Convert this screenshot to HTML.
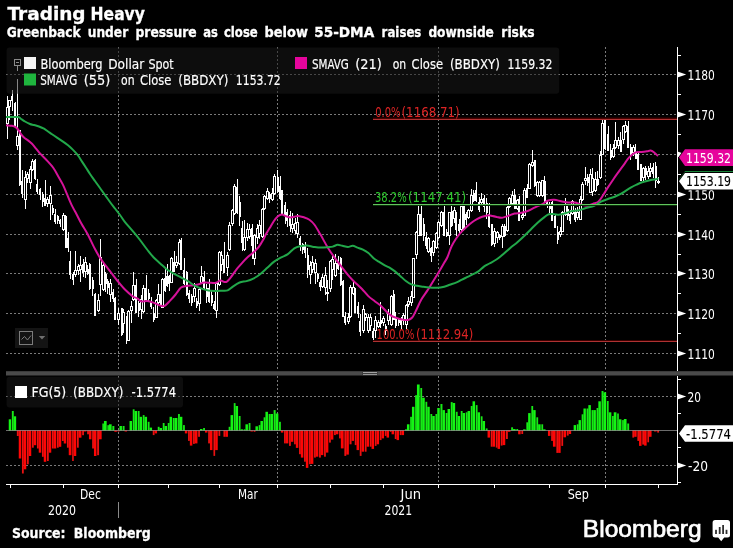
<!DOCTYPE html>
<html lang="en"><head><meta charset="utf-8"><title>Trading Heavy</title>
<style>html,body{margin:0;padding:0;background:#000;}body{width:733px;height:548px;overflow:hidden;}svg text{white-space:pre;}</style>
</head><body>
<svg width="733" height="548" viewBox="0 0 733 548" style="display:block">
<rect width="733" height="548" fill="#000"/>
<g stroke="#7a7a7a" stroke-width="1" stroke-dasharray="2 2" shape-rendering="crispEdges" fill="none">
<path d="M6 74.5H677"/>
<path d="M6 114.5H677"/>
<path d="M6 154.5H677"/>
<path d="M6 194.5H677"/>
<path d="M6 234.5H677"/>
<path d="M6 273.5H677"/>
<path d="M6 313.5H677"/>
<path d="M6 353.5H677"/>
<path d="M6 396.5H677"/>
<path d="M6 465.5H677"/>
<path d="M118.5 47V371"/>
<path d="M118.5 376V484"/>
<path d="M277.5 47V371"/>
<path d="M277.5 376V484"/>
<path d="M438.5 47V371"/>
<path d="M438.5 376V484"/>
<path d="M605.5 47V371"/>
<path d="M605.5 376V484"/>
</g>
<g id="candles" fill="#fff" shape-rendering="crispEdges">
<rect x="7" y="96" width="1" height="43"/>
<rect x="6" y="107" width="3" height="17"/>
<rect x="7" y="108" width="1" height="15" fill="#000"/>
<rect x="9" y="100" width="1" height="20"/>
<rect x="8" y="100" width="3" height="7"/>
<rect x="9" y="101" width="1" height="5" fill="#000"/>
<rect x="12" y="90" width="1" height="21"/>
<rect x="11" y="96" width="2" height="5"/>
<rect x="15" y="102" width="1" height="25"/>
<rect x="14" y="103" width="2" height="23"/>
<rect x="17" y="79" width="1" height="71"/>
<rect x="16" y="136" width="3" height="10"/>
<rect x="17" y="137" width="1" height="8" fill="#000"/>
<rect x="19" y="130" width="1" height="56"/>
<rect x="19" y="130" width="2" height="55"/>
<rect x="22" y="170" width="1" height="28"/>
<rect x="21" y="181" width="2" height="13"/>
<rect x="25" y="171" width="1" height="38"/>
<rect x="24" y="177" width="3" height="23"/>
<rect x="25" y="178" width="1" height="21" fill="#000"/>
<rect x="27" y="172" width="1" height="11"/>
<rect x="26" y="174" width="3" height="5"/>
<rect x="27" y="175" width="1" height="3" fill="#000"/>
<rect x="30" y="166" width="1" height="23"/>
<rect x="29" y="169" width="3" height="14"/>
<rect x="30" y="170" width="1" height="12" fill="#000"/>
<rect x="32" y="159" width="1" height="12"/>
<rect x="31" y="161" width="3" height="9"/>
<rect x="32" y="162" width="1" height="7" fill="#000"/>
<rect x="35" y="159" width="1" height="21"/>
<rect x="34" y="160" width="2" height="19"/>
<rect x="37" y="179" width="1" height="15"/>
<rect x="36" y="184" width="2" height="8"/>
<rect x="40" y="188" width="1" height="12"/>
<rect x="39" y="189" width="2" height="6"/>
<rect x="42" y="192" width="1" height="15"/>
<rect x="42" y="194" width="2" height="8"/>
<rect x="45" y="180" width="1" height="26"/>
<rect x="44" y="198" width="2" height="8"/>
<rect x="47" y="197" width="1" height="10"/>
<rect x="46" y="199" width="3" height="5"/>
<rect x="47" y="200" width="1" height="3" fill="#000"/>
<rect x="50" y="186" width="1" height="34"/>
<rect x="49" y="195" width="3" height="9"/>
<rect x="50" y="196" width="1" height="7" fill="#000"/>
<rect x="52" y="205" width="1" height="10"/>
<rect x="52" y="208" width="2" height="5"/>
<rect x="55" y="209" width="1" height="15"/>
<rect x="54" y="214" width="2" height="8"/>
<rect x="57" y="215" width="1" height="9"/>
<rect x="57" y="216" width="2" height="5"/>
<rect x="60" y="219" width="1" height="8"/>
<rect x="59" y="220" width="2" height="4"/>
<rect x="63" y="213" width="1" height="18"/>
<rect x="62" y="215" width="3" height="15"/>
<rect x="63" y="216" width="1" height="13" fill="#000"/>
<rect x="65" y="215" width="1" height="33"/>
<rect x="65" y="216" width="2" height="32"/>
<rect x="68" y="232" width="1" height="20"/>
<rect x="67" y="238" width="2" height="10"/>
<rect x="70" y="251" width="1" height="28"/>
<rect x="69" y="261" width="2" height="14"/>
<rect x="73" y="272" width="1" height="13"/>
<rect x="72" y="274" width="2" height="6"/>
<rect x="75" y="251" width="1" height="26"/>
<rect x="74" y="270" width="3" height="5"/>
<rect x="75" y="271" width="1" height="3" fill="#000"/>
<rect x="78" y="264" width="1" height="11"/>
<rect x="77" y="266" width="3" height="5"/>
<rect x="78" y="267" width="1" height="3" fill="#000"/>
<rect x="80" y="256" width="1" height="26"/>
<rect x="79" y="265" width="3" height="5"/>
<rect x="80" y="266" width="1" height="3" fill="#000"/>
<rect x="83" y="259" width="1" height="18"/>
<rect x="82" y="264" width="2" height="9"/>
<rect x="85" y="257" width="1" height="21"/>
<rect x="84" y="262" width="3" height="10"/>
<rect x="85" y="263" width="1" height="8" fill="#000"/>
<rect x="87" y="265" width="1" height="10"/>
<rect x="87" y="269" width="2" height="5"/>
<rect x="89" y="263" width="1" height="27"/>
<rect x="89" y="264" width="2" height="25"/>
<rect x="92" y="277" width="1" height="19"/>
<rect x="92" y="280" width="2" height="9"/>
<rect x="95" y="293" width="1" height="23"/>
<rect x="94" y="294" width="2" height="22"/>
<rect x="98" y="294" width="1" height="18"/>
<rect x="97" y="300" width="3" height="11"/>
<rect x="98" y="301" width="1" height="9" fill="#000"/>
<rect x="100" y="239" width="1" height="57"/>
<rect x="99" y="257" width="3" height="28"/>
<rect x="100" y="258" width="1" height="26" fill="#000"/>
<rect x="103" y="263" width="1" height="28"/>
<rect x="102" y="265" width="3" height="25"/>
<rect x="103" y="266" width="1" height="23" fill="#000"/>
<rect x="105" y="272" width="1" height="20"/>
<rect x="105" y="274" width="2" height="10"/>
<rect x="107" y="279" width="1" height="15"/>
<rect x="107" y="281" width="2" height="7"/>
<rect x="110" y="279" width="1" height="23"/>
<rect x="109" y="283" width="3" height="12"/>
<rect x="110" y="284" width="1" height="10" fill="#000"/>
<rect x="113" y="289" width="1" height="13"/>
<rect x="112" y="292" width="2" height="7"/>
<rect x="115" y="297" width="1" height="23"/>
<rect x="114" y="298" width="2" height="22"/>
<rect x="118" y="308" width="1" height="17"/>
<rect x="117" y="313" width="3" height="7"/>
<rect x="118" y="314" width="1" height="5" fill="#000"/>
<rect x="121" y="308" width="1" height="28"/>
<rect x="121" y="308" width="2" height="27"/>
<rect x="123" y="309" width="1" height="24"/>
<rect x="122" y="312" width="3" height="12"/>
<rect x="123" y="313" width="1" height="10" fill="#000"/>
<rect x="126" y="316" width="1" height="28"/>
<rect x="126" y="321" width="2" height="14"/>
<rect x="128" y="310" width="1" height="31"/>
<rect x="127" y="311" width="3" height="30"/>
<rect x="128" y="312" width="1" height="28" fill="#000"/>
<rect x="131" y="301" width="1" height="22"/>
<rect x="130" y="306" width="3" height="5"/>
<rect x="131" y="307" width="1" height="3" fill="#000"/>
<rect x="133" y="272" width="1" height="29"/>
<rect x="132" y="285" width="3" height="15"/>
<rect x="133" y="286" width="1" height="13" fill="#000"/>
<rect x="136" y="279" width="1" height="34"/>
<rect x="135" y="285" width="2" height="28"/>
<rect x="138" y="301" width="1" height="16"/>
<rect x="138" y="303" width="2" height="8"/>
<rect x="141" y="295" width="1" height="24"/>
<rect x="140" y="299" width="3" height="11"/>
<rect x="141" y="300" width="1" height="9" fill="#000"/>
<rect x="143" y="285" width="1" height="28"/>
<rect x="142" y="288" width="3" height="24"/>
<rect x="143" y="289" width="1" height="22" fill="#000"/>
<rect x="146" y="275" width="1" height="26"/>
<rect x="145" y="288" width="2" height="12"/>
<rect x="148" y="289" width="1" height="13"/>
<rect x="148" y="293" width="2" height="6"/>
<rect x="151" y="297" width="1" height="12"/>
<rect x="150" y="301" width="2" height="6"/>
<rect x="153" y="307" width="1" height="15"/>
<rect x="153" y="313" width="2" height="7"/>
<rect x="156" y="299" width="1" height="19"/>
<rect x="155" y="300" width="3" height="18"/>
<rect x="156" y="301" width="1" height="16" fill="#000"/>
<rect x="158" y="284" width="1" height="20"/>
<rect x="157" y="294" width="3" height="9"/>
<rect x="158" y="295" width="1" height="7" fill="#000"/>
<rect x="160" y="294" width="1" height="12"/>
<rect x="160" y="296" width="2" height="7"/>
<rect x="162" y="278" width="1" height="30"/>
<rect x="161" y="279" width="3" height="29"/>
<rect x="162" y="280" width="1" height="27" fill="#000"/>
<rect x="165" y="269" width="1" height="23"/>
<rect x="164" y="278" width="2" height="13"/>
<rect x="167" y="264" width="1" height="23"/>
<rect x="166" y="276" width="2" height="10"/>
<rect x="169" y="275" width="1" height="16"/>
<rect x="168" y="276" width="2" height="8"/>
<rect x="171" y="257" width="1" height="26"/>
<rect x="170" y="258" width="3" height="25"/>
<rect x="171" y="259" width="1" height="23" fill="#000"/>
<rect x="174" y="251" width="1" height="21"/>
<rect x="173" y="262" width="2" height="10"/>
<rect x="176" y="256" width="1" height="12"/>
<rect x="175" y="262" width="3" height="4"/>
<rect x="176" y="263" width="1" height="2" fill="#000"/>
<rect x="179" y="239" width="1" height="26"/>
<rect x="178" y="242" width="3" height="22"/>
<rect x="179" y="243" width="1" height="20" fill="#000"/>
<rect x="181" y="238" width="1" height="32"/>
<rect x="180" y="240" width="2" height="30"/>
<rect x="184" y="258" width="1" height="27"/>
<rect x="183" y="270" width="2" height="14"/>
<rect x="186" y="271" width="1" height="25"/>
<rect x="186" y="272" width="2" height="23"/>
<rect x="189" y="290" width="1" height="13"/>
<rect x="188" y="293" width="2" height="6"/>
<rect x="191" y="294" width="1" height="12"/>
<rect x="191" y="296" width="2" height="7"/>
<rect x="194" y="283" width="1" height="19"/>
<rect x="193" y="288" width="3" height="9"/>
<rect x="194" y="289" width="1" height="7" fill="#000"/>
<rect x="196" y="298" width="1" height="10"/>
<rect x="196" y="301" width="2" height="5"/>
<rect x="199" y="288" width="1" height="23"/>
<rect x="198" y="289" width="3" height="15"/>
<rect x="199" y="290" width="1" height="13" fill="#000"/>
<rect x="201" y="266" width="1" height="18"/>
<rect x="200" y="276" width="3" height="7"/>
<rect x="201" y="277" width="1" height="5" fill="#000"/>
<rect x="204" y="271" width="1" height="18"/>
<rect x="203" y="277" width="2" height="11"/>
<rect x="206" y="284" width="1" height="19"/>
<rect x="206" y="288" width="2" height="9"/>
<rect x="209" y="279" width="1" height="24"/>
<rect x="208" y="288" width="2" height="14"/>
<rect x="211" y="291" width="1" height="15"/>
<rect x="211" y="295" width="2" height="8"/>
<rect x="214" y="301" width="1" height="9"/>
<rect x="213" y="304" width="2" height="5"/>
<rect x="216" y="282" width="1" height="36"/>
<rect x="215" y="283" width="3" height="28"/>
<rect x="216" y="284" width="1" height="26" fill="#000"/>
<rect x="219" y="251" width="1" height="35"/>
<rect x="218" y="252" width="3" height="33"/>
<rect x="219" y="253" width="1" height="31" fill="#000"/>
<rect x="221" y="251" width="1" height="20"/>
<rect x="220" y="255" width="3" height="10"/>
<rect x="221" y="256" width="1" height="8" fill="#000"/>
<rect x="224" y="242" width="1" height="31"/>
<rect x="223" y="259" width="2" height="14"/>
<rect x="227" y="252" width="1" height="24"/>
<rect x="226" y="255" width="3" height="13"/>
<rect x="227" y="256" width="1" height="11" fill="#000"/>
<rect x="229" y="222" width="1" height="29"/>
<rect x="228" y="225" width="3" height="25"/>
<rect x="229" y="226" width="1" height="23" fill="#000"/>
<rect x="232" y="209" width="1" height="17"/>
<rect x="231" y="210" width="3" height="14"/>
<rect x="232" y="211" width="1" height="12" fill="#000"/>
<rect x="234" y="184" width="1" height="31"/>
<rect x="233" y="186" width="3" height="28"/>
<rect x="234" y="187" width="1" height="26" fill="#000"/>
<rect x="237" y="179" width="1" height="35"/>
<rect x="236" y="187" width="2" height="26"/>
<rect x="239" y="196" width="1" height="30"/>
<rect x="239" y="202" width="2" height="15"/>
<rect x="242" y="221" width="1" height="30"/>
<rect x="241" y="228" width="2" height="15"/>
<rect x="244" y="220" width="1" height="31"/>
<rect x="243" y="237" width="3" height="13"/>
<rect x="244" y="238" width="1" height="11" fill="#000"/>
<rect x="247" y="223" width="1" height="18"/>
<rect x="246" y="229" width="3" height="9"/>
<rect x="247" y="230" width="1" height="7" fill="#000"/>
<rect x="249" y="224" width="1" height="15"/>
<rect x="248" y="229" width="3" height="8"/>
<rect x="249" y="230" width="1" height="6" fill="#000"/>
<rect x="252" y="224" width="1" height="35"/>
<rect x="251" y="228" width="2" height="18"/>
<rect x="254" y="234" width="1" height="31"/>
<rect x="253" y="235" width="3" height="24"/>
<rect x="254" y="236" width="1" height="22" fill="#000"/>
<rect x="257" y="224" width="1" height="20"/>
<rect x="256" y="228" width="3" height="10"/>
<rect x="257" y="229" width="1" height="8" fill="#000"/>
<rect x="259" y="220" width="1" height="19"/>
<rect x="258" y="225" width="3" height="9"/>
<rect x="259" y="226" width="1" height="7" fill="#000"/>
<rect x="262" y="208" width="1" height="30"/>
<rect x="261" y="209" width="3" height="28"/>
<rect x="262" y="210" width="1" height="26" fill="#000"/>
<rect x="264" y="195" width="1" height="15"/>
<rect x="263" y="196" width="3" height="13"/>
<rect x="264" y="197" width="1" height="11" fill="#000"/>
<rect x="267" y="188" width="1" height="12"/>
<rect x="266" y="191" width="3" height="8"/>
<rect x="267" y="192" width="1" height="6" fill="#000"/>
<rect x="269" y="192" width="1" height="11"/>
<rect x="269" y="194" width="2" height="5"/>
<rect x="272" y="188" width="1" height="13"/>
<rect x="271" y="193" width="3" height="7"/>
<rect x="272" y="194" width="1" height="5" fill="#000"/>
<rect x="274" y="174" width="1" height="21"/>
<rect x="273" y="176" width="3" height="18"/>
<rect x="274" y="177" width="1" height="16" fill="#000"/>
<rect x="277" y="170" width="1" height="23"/>
<rect x="277" y="177" width="2" height="15"/>
<rect x="280" y="176" width="1" height="24"/>
<rect x="279" y="186" width="2" height="13"/>
<rect x="282" y="190" width="1" height="24"/>
<rect x="281" y="190" width="2" height="24"/>
<rect x="285" y="202" width="1" height="22"/>
<rect x="284" y="205" width="2" height="11"/>
<rect x="287" y="209" width="1" height="18"/>
<rect x="286" y="212" width="2" height="9"/>
<rect x="290" y="211" width="1" height="21"/>
<rect x="289" y="215" width="2" height="11"/>
<rect x="292" y="213" width="1" height="20"/>
<rect x="291" y="224" width="3" height="5"/>
<rect x="292" y="225" width="1" height="3" fill="#000"/>
<rect x="295" y="218" width="1" height="16"/>
<rect x="294" y="223" width="3" height="8"/>
<rect x="295" y="224" width="1" height="6" fill="#000"/>
<rect x="297" y="214" width="1" height="24"/>
<rect x="296" y="222" width="3" height="12"/>
<rect x="297" y="223" width="1" height="10" fill="#000"/>
<rect x="300" y="236" width="1" height="15"/>
<rect x="299" y="238" width="2" height="7"/>
<rect x="302" y="243" width="1" height="11"/>
<rect x="302" y="244" width="2" height="6"/>
<rect x="305" y="242" width="1" height="16"/>
<rect x="304" y="245" width="2" height="8"/>
<rect x="307" y="248" width="1" height="30"/>
<rect x="307" y="255" width="2" height="15"/>
<rect x="310" y="261" width="1" height="23"/>
<rect x="309" y="265" width="3" height="10"/>
<rect x="310" y="266" width="1" height="8" fill="#000"/>
<rect x="312" y="256" width="1" height="17"/>
<rect x="311" y="262" width="3" height="8"/>
<rect x="312" y="263" width="1" height="6" fill="#000"/>
<rect x="315" y="259" width="1" height="25"/>
<rect x="314" y="263" width="3" height="10"/>
<rect x="315" y="264" width="1" height="8" fill="#000"/>
<rect x="317" y="273" width="1" height="9"/>
<rect x="317" y="274" width="2" height="5"/>
<rect x="320" y="280" width="1" height="11"/>
<rect x="319" y="282" width="2" height="5"/>
<rect x="322" y="274" width="1" height="14"/>
<rect x="321" y="277" width="3" height="10"/>
<rect x="322" y="278" width="1" height="8" fill="#000"/>
<rect x="325" y="267" width="1" height="28"/>
<rect x="324" y="275" width="3" height="13"/>
<rect x="325" y="276" width="1" height="11" fill="#000"/>
<rect x="327" y="280" width="1" height="21"/>
<rect x="326" y="292" width="3" height="2"/>
<rect x="330" y="260" width="1" height="32"/>
<rect x="329" y="261" width="3" height="28"/>
<rect x="330" y="262" width="1" height="26" fill="#000"/>
<rect x="332" y="256" width="1" height="24"/>
<rect x="331" y="259" width="3" height="11"/>
<rect x="332" y="260" width="1" height="9" fill="#000"/>
<rect x="335" y="254" width="1" height="23"/>
<rect x="334" y="263" width="3" height="13"/>
<rect x="335" y="264" width="1" height="11" fill="#000"/>
<rect x="338" y="256" width="1" height="14"/>
<rect x="337" y="263" width="2" height="6"/>
<rect x="340" y="257" width="1" height="29"/>
<rect x="340" y="258" width="2" height="27"/>
<rect x="343" y="280" width="1" height="37"/>
<rect x="342" y="281" width="2" height="36"/>
<rect x="345" y="312" width="1" height="13"/>
<rect x="344" y="316" width="2" height="7"/>
<rect x="348" y="313" width="1" height="11"/>
<rect x="347" y="317" width="3" height="5"/>
<rect x="348" y="318" width="1" height="3" fill="#000"/>
<rect x="350" y="285" width="1" height="33"/>
<rect x="349" y="287" width="3" height="30"/>
<rect x="350" y="288" width="1" height="28" fill="#000"/>
<rect x="353" y="280" width="1" height="15"/>
<rect x="352" y="287" width="3" height="7"/>
<rect x="353" y="288" width="1" height="5" fill="#000"/>
<rect x="355" y="288" width="1" height="25"/>
<rect x="354" y="288" width="2" height="25"/>
<rect x="358" y="302" width="1" height="16"/>
<rect x="357" y="306" width="2" height="8"/>
<rect x="360" y="314" width="1" height="22"/>
<rect x="359" y="321" width="2" height="11"/>
<rect x="363" y="305" width="1" height="28"/>
<rect x="362" y="309" width="3" height="22"/>
<rect x="363" y="310" width="1" height="20" fill="#000"/>
<rect x="365" y="313" width="1" height="8"/>
<rect x="364" y="314" width="3" height="4"/>
<rect x="365" y="315" width="1" height="2" fill="#000"/>
<rect x="368" y="314" width="1" height="19"/>
<rect x="367" y="317" width="3" height="14"/>
<rect x="368" y="318" width="1" height="12" fill="#000"/>
<rect x="370" y="314" width="1" height="17"/>
<rect x="369" y="317" width="3" height="9"/>
<rect x="370" y="318" width="1" height="7" fill="#000"/>
<rect x="373" y="328" width="1" height="13"/>
<rect x="372" y="331" width="2" height="7"/>
<rect x="375" y="316" width="1" height="22"/>
<rect x="374" y="320" width="3" height="11"/>
<rect x="375" y="321" width="1" height="9" fill="#000"/>
<rect x="378" y="320" width="1" height="8"/>
<rect x="377" y="322" width="3" height="5"/>
<rect x="378" y="323" width="1" height="3" fill="#000"/>
<rect x="380" y="302" width="1" height="26"/>
<rect x="380" y="320" width="2" height="4"/>
<rect x="383" y="316" width="1" height="10"/>
<rect x="382" y="318" width="3" height="5"/>
<rect x="383" y="319" width="1" height="3" fill="#000"/>
<rect x="385" y="324" width="1" height="11"/>
<rect x="385" y="326" width="2" height="5"/>
<rect x="388" y="309" width="1" height="16"/>
<rect x="387" y="313" width="3" height="8"/>
<rect x="388" y="314" width="1" height="6" fill="#000"/>
<rect x="391" y="295" width="1" height="31"/>
<rect x="390" y="296" width="3" height="29"/>
<rect x="391" y="297" width="1" height="27" fill="#000"/>
<rect x="393" y="290" width="1" height="30"/>
<rect x="393" y="294" width="2" height="26"/>
<rect x="395" y="312" width="1" height="16"/>
<rect x="395" y="317" width="2" height="9"/>
<rect x="398" y="318" width="1" height="8"/>
<rect x="398" y="319" width="2" height="4"/>
<rect x="401" y="317" width="1" height="12"/>
<rect x="400" y="319" width="2" height="6"/>
<rect x="403" y="313" width="1" height="12"/>
<rect x="402" y="315" width="3" height="6"/>
<rect x="403" y="316" width="1" height="4" fill="#000"/>
<rect x="406" y="304" width="1" height="25"/>
<rect x="405" y="305" width="3" height="20"/>
<rect x="406" y="306" width="1" height="18" fill="#000"/>
<rect x="408" y="297" width="1" height="10"/>
<rect x="407" y="301" width="3" height="4"/>
<rect x="408" y="302" width="1" height="2" fill="#000"/>
<rect x="411" y="291" width="1" height="15"/>
<rect x="410" y="296" width="3" height="7"/>
<rect x="411" y="297" width="1" height="5" fill="#000"/>
<rect x="413" y="258" width="1" height="40"/>
<rect x="412" y="258" width="3" height="40"/>
<rect x="413" y="259" width="1" height="38" fill="#000"/>
<rect x="416" y="231" width="1" height="28"/>
<rect x="415" y="232" width="3" height="23"/>
<rect x="416" y="233" width="1" height="21" fill="#000"/>
<rect x="418" y="206" width="1" height="30"/>
<rect x="417" y="214" width="3" height="22"/>
<rect x="418" y="215" width="1" height="20" fill="#000"/>
<rect x="421" y="206" width="1" height="30"/>
<rect x="420" y="214" width="2" height="22"/>
<rect x="423" y="218" width="1" height="23"/>
<rect x="423" y="224" width="2" height="12"/>
<rect x="426" y="232" width="1" height="17"/>
<rect x="425" y="237" width="2" height="9"/>
<rect x="428" y="237" width="1" height="16"/>
<rect x="427" y="238" width="3" height="14"/>
<rect x="428" y="239" width="1" height="12" fill="#000"/>
<rect x="431" y="247" width="1" height="15"/>
<rect x="430" y="248" width="2" height="8"/>
<rect x="433" y="240" width="1" height="16"/>
<rect x="432" y="241" width="3" height="12"/>
<rect x="433" y="242" width="1" height="10" fill="#000"/>
<rect x="436" y="232" width="1" height="17"/>
<rect x="435" y="233" width="3" height="15"/>
<rect x="436" y="234" width="1" height="13" fill="#000"/>
<rect x="438" y="221" width="1" height="18"/>
<rect x="437" y="222" width="3" height="16"/>
<rect x="438" y="223" width="1" height="14" fill="#000"/>
<rect x="441" y="211" width="1" height="16"/>
<rect x="440" y="212" width="3" height="14"/>
<rect x="441" y="213" width="1" height="12" fill="#000"/>
<rect x="444" y="205" width="1" height="31"/>
<rect x="443" y="212" width="2" height="24"/>
<rect x="446" y="229" width="1" height="8"/>
<rect x="446" y="232" width="2" height="4"/>
<rect x="449" y="212" width="1" height="33"/>
<rect x="448" y="212" width="3" height="24"/>
<rect x="449" y="213" width="1" height="22" fill="#000"/>
<rect x="451" y="204" width="1" height="23"/>
<rect x="451" y="211" width="2" height="15"/>
<rect x="454" y="207" width="1" height="16"/>
<rect x="453" y="210" width="3" height="9"/>
<rect x="454" y="211" width="1" height="7" fill="#000"/>
<rect x="456" y="212" width="1" height="24"/>
<rect x="455" y="218" width="2" height="12"/>
<rect x="459" y="219" width="1" height="15"/>
<rect x="458" y="224" width="2" height="7"/>
<rect x="461" y="205" width="1" height="26"/>
<rect x="460" y="206" width="3" height="24"/>
<rect x="461" y="207" width="1" height="22" fill="#000"/>
<rect x="463" y="205" width="1" height="26"/>
<rect x="463" y="206" width="2" height="24"/>
<rect x="466" y="212" width="1" height="13"/>
<rect x="465" y="214" width="2" height="6"/>
<rect x="468" y="209" width="1" height="10"/>
<rect x="467" y="210" width="3" height="8"/>
<rect x="468" y="211" width="1" height="6" fill="#000"/>
<rect x="471" y="189" width="1" height="23"/>
<rect x="470" y="195" width="3" height="16"/>
<rect x="471" y="196" width="1" height="14" fill="#000"/>
<rect x="473" y="190" width="1" height="12"/>
<rect x="473" y="193" width="2" height="8"/>
<rect x="476" y="182" width="1" height="20"/>
<rect x="475" y="190" width="2" height="11"/>
<rect x="479" y="197" width="1" height="15"/>
<rect x="478" y="202" width="2" height="8"/>
<rect x="481" y="193" width="1" height="13"/>
<rect x="480" y="199" width="3" height="4"/>
<rect x="481" y="200" width="1" height="2" fill="#000"/>
<rect x="484" y="195" width="1" height="17"/>
<rect x="483" y="198" width="2" height="9"/>
<rect x="486" y="198" width="1" height="21"/>
<rect x="486" y="203" width="2" height="10"/>
<rect x="489" y="203" width="1" height="25"/>
<rect x="488" y="214" width="2" height="13"/>
<rect x="491" y="224" width="1" height="22"/>
<rect x="491" y="224" width="2" height="21"/>
<rect x="494" y="228" width="1" height="19"/>
<rect x="493" y="231" width="3" height="13"/>
<rect x="494" y="232" width="1" height="11" fill="#000"/>
<rect x="497" y="231" width="1" height="12"/>
<rect x="496" y="232" width="3" height="6"/>
<rect x="497" y="233" width="1" height="4" fill="#000"/>
<rect x="499" y="234" width="1" height="6"/>
<rect x="499" y="235" width="2" height="3"/>
<rect x="502" y="224" width="1" height="24"/>
<rect x="501" y="226" width="3" height="11"/>
<rect x="502" y="227" width="1" height="9" fill="#000"/>
<rect x="504" y="224" width="1" height="13"/>
<rect x="504" y="226" width="2" height="10"/>
<rect x="507" y="206" width="1" height="26"/>
<rect x="506" y="207" width="3" height="24"/>
<rect x="507" y="208" width="1" height="22" fill="#000"/>
<rect x="509" y="197" width="1" height="11"/>
<rect x="508" y="198" width="3" height="9"/>
<rect x="509" y="199" width="1" height="7" fill="#000"/>
<rect x="512" y="191" width="1" height="14"/>
<rect x="511" y="195" width="3" height="9"/>
<rect x="512" y="196" width="1" height="7" fill="#000"/>
<rect x="514" y="189" width="1" height="20"/>
<rect x="514" y="195" width="2" height="14"/>
<rect x="517" y="199" width="1" height="11"/>
<rect x="516" y="200" width="3" height="9"/>
<rect x="517" y="201" width="1" height="7" fill="#000"/>
<rect x="519" y="196" width="1" height="25"/>
<rect x="518" y="199" width="2" height="22"/>
<rect x="522" y="212" width="1" height="8"/>
<rect x="521" y="215" width="3" height="3"/>
<rect x="522" y="216" width="1" height="1" fill="#000"/>
<rect x="524" y="188" width="1" height="28"/>
<rect x="523" y="190" width="3" height="26"/>
<rect x="524" y="191" width="1" height="24" fill="#000"/>
<rect x="527" y="184" width="1" height="14"/>
<rect x="526" y="188" width="2" height="10"/>
<rect x="529" y="163" width="1" height="26"/>
<rect x="528" y="164" width="3" height="25"/>
<rect x="529" y="165" width="1" height="23" fill="#000"/>
<rect x="532" y="150" width="1" height="17"/>
<rect x="531" y="162" width="3" height="4"/>
<rect x="532" y="163" width="1" height="2" fill="#000"/>
<rect x="534" y="160" width="1" height="27"/>
<rect x="534" y="160" width="2" height="26"/>
<rect x="537" y="181" width="1" height="16"/>
<rect x="536" y="182" width="3" height="14"/>
<rect x="537" y="183" width="1" height="12" fill="#000"/>
<rect x="539" y="181" width="1" height="16"/>
<rect x="538" y="182" width="3" height="14"/>
<rect x="539" y="183" width="1" height="12" fill="#000"/>
<rect x="542" y="180" width="1" height="17"/>
<rect x="541" y="180" width="3" height="16"/>
<rect x="542" y="181" width="1" height="14" fill="#000"/>
<rect x="544" y="176" width="1" height="26"/>
<rect x="544" y="181" width="2" height="21"/>
<rect x="547" y="200" width="1" height="8"/>
<rect x="546" y="201" width="2" height="4"/>
<rect x="549" y="202" width="1" height="11"/>
<rect x="549" y="204" width="2" height="5"/>
<rect x="552" y="201" width="1" height="20"/>
<rect x="551" y="202" width="2" height="19"/>
<rect x="555" y="215" width="1" height="13"/>
<rect x="554" y="216" width="2" height="12"/>
<rect x="557" y="226" width="1" height="18"/>
<rect x="557" y="232" width="2" height="8"/>
<rect x="560" y="227" width="1" height="10"/>
<rect x="559" y="231" width="3" height="4"/>
<rect x="560" y="232" width="1" height="2" fill="#000"/>
<rect x="562" y="211" width="1" height="21"/>
<rect x="561" y="212" width="3" height="20"/>
<rect x="562" y="213" width="1" height="18" fill="#000"/>
<rect x="565" y="198" width="1" height="18"/>
<rect x="564" y="205" width="3" height="10"/>
<rect x="565" y="206" width="1" height="8" fill="#000"/>
<rect x="567" y="206" width="1" height="14"/>
<rect x="567" y="209" width="2" height="7"/>
<rect x="570" y="210" width="1" height="14"/>
<rect x="569" y="214" width="2" height="7"/>
<rect x="572" y="200" width="1" height="15"/>
<rect x="571" y="201" width="3" height="13"/>
<rect x="572" y="202" width="1" height="11" fill="#000"/>
<rect x="575" y="208" width="1" height="14"/>
<rect x="574" y="212" width="2" height="8"/>
<rect x="577" y="207" width="1" height="13"/>
<rect x="576" y="212" width="3" height="6"/>
<rect x="577" y="213" width="1" height="4" fill="#000"/>
<rect x="580" y="196" width="1" height="24"/>
<rect x="579" y="199" width="3" height="21"/>
<rect x="580" y="200" width="1" height="19" fill="#000"/>
<rect x="582" y="182" width="1" height="19"/>
<rect x="581" y="184" width="3" height="16"/>
<rect x="582" y="185" width="1" height="14" fill="#000"/>
<rect x="585" y="167" width="1" height="18"/>
<rect x="584" y="178" width="3" height="3"/>
<rect x="585" y="179" width="1" height="1" fill="#000"/>
<rect x="587" y="174" width="1" height="12"/>
<rect x="587" y="177" width="2" height="6"/>
<rect x="590" y="169" width="1" height="24"/>
<rect x="589" y="174" width="3" height="19"/>
<rect x="590" y="175" width="1" height="17" fill="#000"/>
<rect x="592" y="168" width="1" height="28"/>
<rect x="591" y="178" width="3" height="14"/>
<rect x="592" y="179" width="1" height="12" fill="#000"/>
<rect x="595" y="172" width="1" height="20"/>
<rect x="594" y="179" width="3" height="12"/>
<rect x="595" y="180" width="1" height="10" fill="#000"/>
<rect x="597" y="171" width="1" height="15"/>
<rect x="597" y="179" width="2" height="6"/>
<rect x="600" y="151" width="1" height="28"/>
<rect x="599" y="155" width="3" height="23"/>
<rect x="600" y="156" width="1" height="21" fill="#000"/>
<rect x="602" y="120" width="1" height="35"/>
<rect x="601" y="123" width="3" height="32"/>
<rect x="602" y="124" width="1" height="30" fill="#000"/>
<rect x="605" y="120" width="1" height="30"/>
<rect x="604" y="120" width="2" height="29"/>
<rect x="608" y="126" width="1" height="25"/>
<rect x="607" y="134" width="2" height="17"/>
<rect x="610" y="144" width="1" height="16"/>
<rect x="610" y="150" width="2" height="8"/>
<rect x="613" y="144" width="1" height="14"/>
<rect x="612" y="148" width="3" height="9"/>
<rect x="613" y="149" width="1" height="7" fill="#000"/>
<rect x="615" y="122" width="1" height="27"/>
<rect x="614" y="140" width="3" height="8"/>
<rect x="615" y="141" width="1" height="6" fill="#000"/>
<rect x="618" y="137" width="1" height="12"/>
<rect x="617" y="140" width="3" height="6"/>
<rect x="618" y="141" width="1" height="4" fill="#000"/>
<rect x="620" y="132" width="1" height="20"/>
<rect x="620" y="140" width="2" height="12"/>
<rect x="623" y="125" width="1" height="19"/>
<rect x="622" y="126" width="3" height="14"/>
<rect x="623" y="127" width="1" height="12" fill="#000"/>
<rect x="625" y="121" width="1" height="12"/>
<rect x="624" y="125" width="3" height="7"/>
<rect x="625" y="126" width="1" height="5" fill="#000"/>
<rect x="628" y="121" width="1" height="27"/>
<rect x="627" y="126" width="2" height="22"/>
<rect x="630" y="144" width="1" height="16"/>
<rect x="630" y="147" width="2" height="8"/>
<rect x="633" y="145" width="1" height="11"/>
<rect x="632" y="147" width="3" height="6"/>
<rect x="633" y="148" width="1" height="4" fill="#000"/>
<rect x="635" y="144" width="1" height="15"/>
<rect x="635" y="153" width="2" height="6"/>
<rect x="638" y="153" width="1" height="17"/>
<rect x="637" y="154" width="2" height="16"/>
<rect x="640" y="164" width="1" height="17"/>
<rect x="640" y="164" width="2" height="17"/>
<rect x="643" y="167" width="1" height="14"/>
<rect x="642" y="168" width="3" height="10"/>
<rect x="643" y="169" width="1" height="8" fill="#000"/>
<rect x="645" y="166" width="1" height="14"/>
<rect x="645" y="168" width="2" height="7"/>
<rect x="648" y="166" width="1" height="13"/>
<rect x="647" y="171" width="3" height="6"/>
<rect x="648" y="172" width="1" height="4" fill="#000"/>
<rect x="650" y="163" width="1" height="14"/>
<rect x="649" y="168" width="3" height="4"/>
<rect x="650" y="169" width="1" height="2" fill="#000"/>
<rect x="653" y="163" width="1" height="15"/>
<rect x="652" y="167" width="2" height="7"/>
<rect x="655" y="162" width="1" height="26"/>
<rect x="655" y="166" width="2" height="15"/>
<rect x="658" y="177" width="1" height="7"/>
<rect x="657" y="181" width="3" height="2"/>
</g>
<path d="M6.0 125.3C7.0 125.4 10.4 125.4 12.0 125.7C13.6 126.0 14.9 126.6 16.0 127.4C17.1 128.2 18.2 129.7 19.0 130.8C19.8 131.9 20.2 133.1 21.0 134.2C21.8 135.3 22.9 136.6 24.0 137.6C25.1 138.6 26.7 139.4 28.0 140.4C29.3 141.4 30.7 142.5 32.0 143.8C33.3 145.1 34.7 147.1 36.0 148.6C37.3 150.1 38.7 152.0 40.0 153.4C41.3 154.8 42.7 156.2 44.0 157.5C45.3 158.8 46.7 160.2 48.0 161.6C49.3 163.0 50.9 164.8 52.0 166.2C53.1 167.6 54.1 169.1 55.0 170.5C55.9 171.9 56.2 172.7 57.5 175.0C58.8 177.3 61.4 181.5 62.9 184.6C64.4 187.7 65.7 191.1 67.0 194.2C68.3 197.3 69.6 200.6 71.1 203.8C72.6 207.0 74.7 210.8 76.4 214.0C78.1 217.2 79.7 220.5 81.5 223.8C83.3 227.1 85.7 230.5 87.8 234.5C89.9 238.5 92.7 244.7 94.7 248.5C96.7 252.3 98.4 255.4 100.2 258.1C102.0 260.8 104.0 263.3 105.7 265.6C107.4 267.9 109.2 270.0 111.1 272.5C113.0 275.0 115.3 278.2 117.6 281.0C119.9 283.8 122.8 287.4 125.2 289.8C127.6 292.2 130.6 294.8 132.5 296.2C134.4 297.6 135.9 297.5 137.3 298.3C138.7 299.1 139.4 300.9 141.0 301.3C142.6 301.7 145.2 300.8 147.2 301.0C149.2 301.2 151.3 301.9 153.4 302.6C155.5 303.3 158.5 305.1 160.3 305.6C162.1 306.1 163.0 306.6 164.6 305.8C166.2 305.0 168.3 302.4 170.1 300.6C171.9 298.8 173.9 296.6 175.6 294.5C177.3 292.4 179.3 289.0 181.0 287.6C182.7 286.2 184.5 286.4 186.5 286.0C188.5 285.6 191.4 285.6 193.4 285.3C195.4 285.0 197.1 284.6 198.8 284.2C200.5 283.8 202.3 282.8 204.3 282.6C206.3 282.4 209.2 282.8 211.1 282.8C213.0 282.8 214.5 283.2 216.0 282.8C217.5 282.4 219.0 280.7 220.6 280.6C222.2 280.5 224.3 282.7 226.1 282.0C227.9 281.3 230.1 278.1 231.8 276.0C233.5 273.9 235.2 270.9 236.9 268.8C238.6 266.7 240.7 264.5 242.4 262.6C244.1 260.7 246.1 258.7 247.8 257.1C249.5 255.5 251.5 254.0 253.3 252.4C255.1 250.8 257.2 249.0 258.8 246.9C260.4 244.8 262.3 241.4 263.5 239.3C264.7 237.2 265.0 235.8 266.0 234.0C267.0 232.2 268.5 230.1 269.7 228.1C270.9 226.1 272.3 223.4 273.6 221.5C274.9 219.6 276.6 217.4 277.9 216.3C279.2 215.2 280.7 214.5 282.0 214.5C283.3 214.5 284.8 215.8 286.1 216.3C287.4 216.8 288.9 217.3 290.2 217.4C291.5 217.5 293.0 216.9 294.3 216.7C295.6 216.5 296.9 215.8 298.4 215.9C299.9 216.0 302.1 216.7 303.9 217.3C305.7 217.9 307.7 218.5 309.4 219.7C311.1 220.9 312.5 222.1 314.3 224.5C316.1 226.9 318.4 231.0 320.5 234.6C322.6 238.2 325.2 243.3 327.4 246.9C329.6 250.5 332.0 254.0 334.2 257.1C336.4 260.2 338.8 263.2 341.0 266.0C343.2 268.8 345.9 272.5 347.9 274.9C349.9 277.3 352.0 279.5 353.5 281.0C355.0 282.5 355.6 282.9 357.0 284.2C358.4 285.5 360.2 287.1 362.0 289.0C363.8 290.9 366.1 293.9 368.1 295.9C370.1 297.9 372.8 299.7 374.7 301.2C376.6 302.7 378.4 303.8 380.2 305.3C382.0 306.8 384.0 309.2 385.7 310.8C387.4 312.4 389.5 314.5 391.1 315.6C392.7 316.7 394.1 317.0 395.8 317.6C397.5 318.2 400.0 319.1 402.0 319.5C404.0 319.9 406.6 320.2 408.2 319.9C409.8 319.6 410.9 319.1 412.2 317.5C413.5 315.9 414.9 312.8 416.3 310.0C417.7 307.2 419.4 302.9 421.2 299.7C423.0 296.5 425.9 292.9 427.8 289.9C429.7 286.9 431.5 283.8 433.3 281.0C435.1 278.2 437.1 275.0 438.8 272.1C440.5 269.2 442.8 265.2 444.2 262.8C445.6 260.4 446.3 259.7 447.5 257.0C448.7 254.3 450.2 249.1 451.6 246.2C453.0 243.3 454.4 241.1 456.0 238.7C457.6 236.3 460.1 233.3 461.9 231.4C463.7 229.5 465.4 228.1 467.0 226.6C468.6 225.1 470.5 223.5 472.1 222.3C473.7 221.1 475.4 220.1 477.0 219.2C478.6 218.3 480.5 217.4 482.3 216.8C484.1 216.2 486.9 215.3 488.5 215.2C490.1 215.1 491.2 215.7 492.5 216.0C493.8 216.3 495.3 216.6 496.8 216.9C498.3 217.2 499.8 217.9 501.8 217.7C503.8 217.5 507.2 216.2 509.2 215.5C511.2 214.8 512.6 213.9 514.6 213.5C516.6 213.1 519.3 213.2 521.5 212.8C523.7 212.4 526.1 211.6 528.3 210.7C530.5 209.8 532.9 208.3 535.1 207.3C537.3 206.3 540.0 205.4 542.0 204.3C544.0 203.2 545.5 201.4 547.5 200.7C549.5 200.0 552.1 199.7 554.3 199.8C556.5 199.9 558.9 200.8 561.1 201.2C563.3 201.6 565.8 202.3 568.0 202.5C570.2 202.7 572.8 202.2 574.8 202.5C576.8 202.8 578.3 203.8 580.3 204.3C582.3 204.8 585.4 205.9 587.4 205.8C589.4 205.7 591.1 204.5 592.8 203.8C594.5 203.1 596.8 202.9 598.3 201.7C599.8 200.5 600.9 198.6 602.4 196.3C603.9 194.0 606.1 190.1 607.9 187.4C609.7 184.7 611.7 181.7 613.4 179.2C615.1 176.7 617.1 174.0 618.8 171.6C620.5 169.2 622.8 166.1 624.3 164.1C625.8 162.1 626.7 160.3 627.9 158.8C629.1 157.3 630.7 155.8 632.0 154.7C633.3 153.6 634.6 152.6 636.1 152.2C637.6 151.8 639.9 152.0 641.6 151.9C643.3 151.8 645.6 151.5 647.0 151.3C648.4 151.1 649.4 150.5 650.5 150.6C651.6 150.7 652.7 151.3 653.9 152.2C655.1 153.1 657.3 155.4 658.0 156.0" fill="none" stroke="#d6129a" stroke-width="2" stroke-linejoin="round"/>
<path d="M6.0 117.0C7.9 117.0 15.7 116.8 18.0 117.0C20.3 117.2 19.4 117.8 20.5 118.5C21.6 119.2 23.5 120.6 25.0 121.5C26.5 122.4 28.6 123.4 30.0 124.0C31.4 124.6 32.6 124.6 34.0 125.0C35.4 125.4 37.4 125.9 39.0 126.5C40.6 127.1 42.6 127.9 44.0 128.7C45.4 129.5 46.7 130.6 48.0 131.5C49.3 132.4 50.6 133.2 52.0 134.2C53.4 135.2 55.2 136.4 57.0 137.6C58.8 138.8 61.2 140.4 63.0 141.6C64.8 142.8 66.4 144.0 68.0 145.3C69.6 146.6 71.4 148.3 73.0 149.9C74.6 151.5 76.6 153.5 78.0 155.4C79.4 157.3 80.7 159.6 82.0 161.6C83.3 163.6 84.7 165.7 86.0 167.7C87.3 169.7 88.6 171.9 90.0 174.0C91.4 176.1 93.4 178.8 95.0 181.0C96.6 183.2 98.4 185.8 100.0 188.0C101.6 190.2 103.4 192.8 105.0 195.0C106.6 197.2 108.4 199.8 110.0 202.0C111.6 204.2 113.4 206.4 115.0 208.5C116.6 210.6 118.4 212.9 120.0 215.0C121.6 217.1 122.7 219.2 124.8 221.8C126.9 224.4 130.6 228.5 133.0 231.4C135.4 234.3 137.7 237.0 140.0 240.0C142.3 243.0 145.3 247.2 147.5 250.0C149.7 252.8 151.6 255.3 153.7 257.5C155.8 259.7 158.3 261.7 160.5 263.7C162.7 265.7 165.2 268.2 167.4 269.8C169.6 271.4 172.0 272.7 174.2 273.9C176.4 275.1 178.8 276.2 181.0 277.4C183.2 278.6 185.7 279.9 187.9 281.2C190.1 282.5 192.5 284.4 194.7 285.6C196.9 286.8 199.4 287.8 201.6 288.6C203.8 289.4 206.2 290.0 208.4 290.4C210.6 290.8 213.0 290.9 215.2 291.0C217.4 291.1 220.1 290.9 222.1 290.8C224.1 290.7 225.9 291.1 227.6 290.4C229.3 289.7 230.9 287.9 232.8 286.6C234.7 285.3 237.4 283.4 239.6 282.5C241.8 281.6 244.3 281.7 246.5 281.1C248.7 280.5 251.1 279.7 253.3 278.6C255.5 277.5 257.9 275.9 260.1 274.2C262.3 272.5 264.8 270.1 267.0 268.1C269.2 266.1 271.6 263.6 273.8 261.9C276.0 260.2 278.5 258.8 280.7 257.6C282.9 256.4 285.3 255.9 287.5 254.4C289.7 252.9 292.3 249.6 294.3 248.3C296.3 247.0 297.8 246.6 299.8 246.2C301.8 245.8 304.6 245.4 306.8 245.5C309.0 245.6 311.5 246.6 313.7 246.9C315.9 247.2 318.3 247.6 320.5 247.6C322.7 247.6 325.4 247.4 327.4 247.2C329.4 247.0 331.2 247.0 332.8 246.6C334.4 246.2 336.1 244.9 337.6 244.8C339.1 244.7 340.8 245.5 342.4 245.8C344.0 246.1 346.3 246.9 347.9 246.9C349.5 246.9 351.2 245.7 352.7 245.8C354.2 245.9 355.9 247.0 357.5 247.6C359.1 248.2 361.2 248.7 362.9 249.6C364.6 250.5 366.6 251.6 368.4 253.0C370.2 254.4 372.2 257.1 373.9 258.5C375.6 259.9 377.6 260.8 379.3 261.9C381.0 263.0 383.0 264.4 384.8 265.4C386.6 266.4 388.7 267.1 390.3 268.1C391.9 269.1 393.4 270.1 395.0 271.4C396.6 272.7 398.8 274.7 400.5 276.2C402.2 277.7 404.2 279.7 405.9 281.0C407.6 282.3 409.6 283.6 411.4 284.4C413.2 285.2 415.1 285.4 416.9 285.8C418.7 286.2 420.4 286.4 422.4 286.7C424.4 287.0 426.8 287.4 429.2 287.6C431.6 287.8 435.0 287.9 437.4 287.8C439.8 287.7 442.2 287.2 444.2 286.7C446.2 286.2 447.7 285.5 449.7 284.8C451.7 284.1 454.6 283.2 456.6 282.4C458.6 281.6 460.3 280.5 462.0 279.6C463.7 278.7 465.7 277.8 467.5 276.9C469.3 276.0 471.3 275.1 473.0 274.2C474.7 273.3 476.7 272.6 478.4 271.4C480.1 270.2 482.1 267.9 483.9 266.6C485.7 265.3 487.3 264.7 489.4 263.5C491.5 262.3 494.5 260.9 496.8 259.3C499.1 257.7 501.5 255.7 503.7 253.8C505.9 251.9 508.3 249.6 510.5 247.7C512.7 245.8 515.2 244.1 517.4 242.2C519.6 240.3 522.0 238.1 524.2 236.0C526.4 233.9 528.8 231.4 531.0 229.2C533.2 227.0 535.7 224.4 537.9 222.4C540.1 220.4 543.0 218.2 544.7 216.9C546.4 215.6 547.3 214.6 548.8 214.2C550.3 213.8 552.5 214.1 554.3 214.2C556.1 214.3 557.8 214.8 559.8 214.6C561.8 214.4 564.6 213.4 566.6 212.8C568.6 212.2 570.1 211.5 572.1 211.1C574.1 210.7 576.7 210.8 578.9 210.3C581.1 209.8 583.4 208.7 585.8 208.0C588.2 207.3 591.8 206.8 594.2 205.8C596.6 204.8 598.8 202.8 601.0 201.7C603.2 200.6 605.7 199.8 607.9 199.0C610.1 198.2 612.7 197.5 614.7 196.7C616.7 195.9 618.4 195.1 620.2 194.2C622.0 193.3 624.0 191.9 625.7 190.8C627.4 189.7 629.4 188.4 631.1 187.4C632.8 186.4 634.8 185.4 636.6 184.6C638.4 183.8 640.1 183.0 642.1 182.3C644.1 181.6 646.7 181.0 648.9 180.5C651.1 180.0 654.3 179.5 655.8 179.2C657.3 178.9 658.1 178.6 658.5 178.5" fill="none" stroke="#22a84a" stroke-width="2" stroke-linejoin="round"/>
<g shape-rendering="crispEdges">
<rect x="373" y="117" width="304" height="1" fill="#1a0000"/><rect x="373" y="118" width="304" height="1" fill="#460000"/><rect x="373" y="119" width="304" height="1" fill="#ae3232"/>
<rect x="373" y="204" width="304" height="1" fill="#62c45e"/><rect x="373" y="205" width="304" height="1" fill="#0a3208"/>
<rect x="373" y="340" width="304" height="1" fill="#3c0000"/><rect x="373" y="341" width="304" height="1" fill="#ae3232"/>
</g>
<g font-family="'DejaVu Sans Condensed','DejaVu Sans','Liberation Sans',sans-serif" font-size="13.8">
<text x="375.2" y="117.2" fill="#dc2424" textLength="25.3" lengthAdjust="spacingAndGlyphs">0.0%</text>
<text x="401.5" y="117.2" fill="#dc2424" textLength="58.1" lengthAdjust="spacingAndGlyphs">(1168.71)</text>
<text x="375.0" y="202.2" fill="#2cc82c" textLength="31.7" lengthAdjust="spacingAndGlyphs">38.2%</text>
<text x="408.0" y="202.2" fill="#2cc82c" textLength="58.2" lengthAdjust="spacingAndGlyphs">(1147.41)</text>
<text x="376.6" y="338.9" fill="#dc2424" textLength="37.7" lengthAdjust="spacingAndGlyphs">100.0%</text>
<text x="415.9" y="338.9" fill="#dc2424" textLength="57.3" lengthAdjust="spacingAndGlyphs">(1112.94)</text>
</g>
<rect x="6.6" y="47.5" width="552.6" height="46.3" rx="3" fill="#191919" fill-opacity="0.52"/>
<g stroke="#8a8a8a" stroke-width="1" fill="none" shape-rendering="crispEdges"><rect x="14.5" y="59.5" width="6" height="6"/><path d="M16 62.5H19M17.5 66V71"/></g>
<rect x="24" y="57" width="12" height="12" fill="#f4f4f4"/>
<rect x="24" y="73.5" width="12" height="12" fill="#1fb53e"/>
<rect x="295" y="57" width="12" height="12" fill="#e6059c"/>
<g font-family="'DejaVu Sans Condensed','DejaVu Sans','Liberation Sans',sans-serif" font-size="13.8" fill="#fff" stroke="#fff" stroke-width="0.15">
<text x="40.4" y="68.6" textLength="62.1" lengthAdjust="spacingAndGlyphs">Bloomberg</text>
<text x="108.2" y="68.6" textLength="36.1" lengthAdjust="spacingAndGlyphs">Dollar</text>
<text x="148.4" y="68.6" textLength="25.3" lengthAdjust="spacingAndGlyphs">Spot</text>
<text x="311.9" y="68.6" textLength="36.9" lengthAdjust="spacingAndGlyphs">SMAVG</text>
<text x="355.3" y="68.6" textLength="26.6" lengthAdjust="spacingAndGlyphs">(21)</text>
<text x="392.7" y="68.6" textLength="13.5" lengthAdjust="spacingAndGlyphs">on</text>
<text x="411.6" y="68.6" textLength="31.4" lengthAdjust="spacingAndGlyphs">Close</text>
<text x="449.9" y="68.6" textLength="50.1" lengthAdjust="spacingAndGlyphs">(BBDXY)</text>
<text x="507.4" y="68.6" textLength="45.0" lengthAdjust="spacingAndGlyphs">1159.32</text>
<text x="40.3" y="84.9" textLength="36.9" lengthAdjust="spacingAndGlyphs">SMAVG</text>
<text x="83.7" y="84.9" textLength="26.6" lengthAdjust="spacingAndGlyphs">(55)</text>
<text x="121.1" y="84.9" textLength="13.5" lengthAdjust="spacingAndGlyphs">on</text>
<text x="140.0" y="84.9" textLength="31.4" lengthAdjust="spacingAndGlyphs">Close</text>
<text x="178.3" y="84.9" textLength="50.1" lengthAdjust="spacingAndGlyphs">(BBDXY)</text>
<text x="235.8" y="84.9" textLength="45.0" lengthAdjust="spacingAndGlyphs">1153.72</text>
</g>
<rect x="15" y="328" width="33" height="20" fill="#141414"/>
<g stroke="#7c7c7c" stroke-width="1" fill="none"><rect x="19.5" y="331.5" width="13" height="13" shape-rendering="crispEdges"/><path d="M21.5 339.5L24.5 336.5L27.5 340L31 335.5"/></g>
<path d="M38.8 336H45.2L42 339.6Z" fill="#707070"/>
<rect x="6" y="371.2" width="727" height="4.3" fill="#4a4a4a"/>
<rect x="362.5" y="371.2" width="15" height="4.3" fill="#303030"/>
<rect x="363" y="372.1" width="14" height="0.9" fill="#b0b0b0"/><rect x="363" y="373.9" width="14" height="0.9" fill="#b0b0b0"/>
<g>
<rect x="8.75" y="419.3" width="2.40" height="11.2" fill="#14f514"/>
<rect x="11.85" y="411.0" width="1.90" height="19.5" fill="#18e818"/>
<rect x="13.75" y="416.3" width="2.40" height="14.2" fill="#14f514"/>
<rect x="16.85" y="430.5" width="1.90" height="5.5" fill="#ea1212"/>
<rect x="18.75" y="430.5" width="2.50" height="28.0" fill="#ff0505"/>
<rect x="21.95" y="430.5" width="1.80" height="43.0" fill="#ea1212"/>
<rect x="23.75" y="430.5" width="2.50" height="38.8" fill="#ff0505"/>
<rect x="26.95" y="430.5" width="1.80" height="33.8" fill="#ea1212"/>
<rect x="28.75" y="430.5" width="2.50" height="25.5" fill="#ff0505"/>
<rect x="31.95" y="430.5" width="1.80" height="17.2" fill="#ea1212"/>
<rect x="33.75" y="430.5" width="2.50" height="14.7" fill="#ff0505"/>
<rect x="36.95" y="430.5" width="1.80" height="18.0" fill="#ea1212"/>
<rect x="38.75" y="430.5" width="2.50" height="22.2" fill="#ff0505"/>
<rect x="41.95" y="430.5" width="1.80" height="26.3" fill="#ea1212"/>
<rect x="43.75" y="430.5" width="2.50" height="31.3" fill="#ff0505"/>
<rect x="46.95" y="430.5" width="1.80" height="30.5" fill="#ea1212"/>
<rect x="48.75" y="430.5" width="2.50" height="22.2" fill="#ff0505"/>
<rect x="51.95" y="430.5" width="1.80" height="18.0" fill="#ea1212"/>
<rect x="53.75" y="430.5" width="2.50" height="18.0" fill="#ff0505"/>
<rect x="56.95" y="430.5" width="1.80" height="17.2" fill="#ea1212"/>
<rect x="58.75" y="430.5" width="2.50" height="16.3" fill="#ff0505"/>
<rect x="61.95" y="430.5" width="1.80" height="10.5" fill="#ea1212"/>
<rect x="63.75" y="430.5" width="2.50" height="13.0" fill="#ff0505"/>
<rect x="66.95" y="430.5" width="1.80" height="17.2" fill="#ea1212"/>
<rect x="68.75" y="430.5" width="2.70" height="24.7" fill="#ff0505"/>
<rect x="72.15" y="430.5" width="1.60" height="30.5" fill="#ea1212"/>
<rect x="73.75" y="430.5" width="2.50" height="25.5" fill="#ff0505"/>
<rect x="76.95" y="430.5" width="1.80" height="17.2" fill="#ea1212"/>
<rect x="78.75" y="430.5" width="2.70" height="7.2" fill="#ff0505"/>
<rect x="82.15" y="430.5" width="1.80" height="4.7" fill="#ea1212"/>
<rect x="83.95" y="430.5" width="2.50" height="1.0" fill="#ff0505"/>
<rect x="87.15" y="430.5" width="1.80" height="3.8" fill="#ea1212"/>
<rect x="88.95" y="430.5" width="2.50" height="8.8" fill="#ff0505"/>
<rect x="92.15" y="430.5" width="1.80" height="18.0" fill="#ea1212"/>
<rect x="93.95" y="430.5" width="2.50" height="25.5" fill="#ff0505"/>
<rect x="97.15" y="430.5" width="1.90" height="24.7" fill="#ea1212"/>
<rect x="99.05" y="430.5" width="2.60" height="8.8" fill="#ff0505"/>
<rect x="102.35" y="423.5" width="1.60" height="7.0" fill="#18e818"/>
<rect x="103.95" y="421.0" width="2.70" height="9.5" fill="#14f514"/>
<rect x="107.35" y="425.2" width="1.60" height="5.3" fill="#18e818"/>
<rect x="108.95" y="424.3" width="2.70" height="6.2" fill="#14f514"/>
<rect x="112.35" y="426.0" width="2.00" height="4.5" fill="#18e818"/>
<rect x="114.35" y="430.5" width="2.50" height="1.3" fill="#ff0505"/>
<rect x="117.55" y="430.5" width="1.90" height="1.0" fill="#ea1212"/>
<rect x="119.45" y="426.0" width="2.50" height="4.5" fill="#14f514"/>
<rect x="122.65" y="426.0" width="1.90" height="4.5" fill="#18e818"/>
<rect x="124.55" y="430.5" width="2.50" height="1.0" fill="#ff0505"/>
<rect x="129.55" y="421.0" width="2.50" height="9.5" fill="#14f514"/>
<rect x="132.75" y="409.3" width="1.80" height="21.2" fill="#18e818"/>
<rect x="134.55" y="411.0" width="2.50" height="19.5" fill="#14f514"/>
<rect x="137.75" y="411.0" width="1.80" height="19.5" fill="#18e818"/>
<rect x="139.55" y="416.8" width="2.50" height="13.7" fill="#14f514"/>
<rect x="142.75" y="415.1" width="1.80" height="15.4" fill="#18e818"/>
<rect x="144.55" y="416.8" width="2.50" height="13.7" fill="#14f514"/>
<rect x="147.75" y="421.8" width="1.80" height="8.7" fill="#18e818"/>
<rect x="149.55" y="427.6" width="2.50" height="2.9" fill="#14f514"/>
<rect x="152.75" y="430.5" width="1.80" height="4.6" fill="#ea1212"/>
<rect x="154.55" y="430.5" width="2.50" height="2.9" fill="#ff0505"/>
<rect x="157.75" y="426.8" width="1.80" height="3.7" fill="#18e818"/>
<rect x="159.55" y="428.0" width="2.50" height="2.5" fill="#14f514"/>
<rect x="162.75" y="423.0" width="1.80" height="7.5" fill="#18e818"/>
<rect x="164.55" y="426.0" width="2.50" height="4.5" fill="#14f514"/>
<rect x="167.75" y="423.0" width="1.80" height="7.5" fill="#18e818"/>
<rect x="169.55" y="416.8" width="2.50" height="13.7" fill="#14f514"/>
<rect x="172.75" y="418.0" width="1.80" height="12.5" fill="#18e818"/>
<rect x="174.55" y="418.0" width="2.80" height="12.5" fill="#14f514"/>
<rect x="178.05" y="414.0" width="1.80" height="16.5" fill="#18e818"/>
<rect x="179.85" y="416.8" width="2.50" height="13.7" fill="#14f514"/>
<rect x="183.05" y="425.1" width="1.80" height="5.4" fill="#18e818"/>
<rect x="184.85" y="430.5" width="2.50" height="2.9" fill="#ff0505"/>
<rect x="188.05" y="430.5" width="1.80" height="10.4" fill="#ea1212"/>
<rect x="189.85" y="430.5" width="2.50" height="15.1" fill="#ff0505"/>
<rect x="193.05" y="430.5" width="1.80" height="13.4" fill="#ea1212"/>
<rect x="194.85" y="430.5" width="2.60" height="12.9" fill="#ff0505"/>
<rect x="198.15" y="430.5" width="1.80" height="6.3" fill="#ea1212"/>
<rect x="199.95" y="429.0" width="2.50" height="1.5" fill="#14f514"/>
<rect x="203.15" y="428.0" width="1.80" height="2.5" fill="#18e818"/>
<rect x="204.95" y="430.5" width="2.50" height="2.1" fill="#ff0505"/>
<rect x="208.15" y="430.5" width="1.80" height="12.9" fill="#ea1212"/>
<rect x="209.95" y="430.5" width="2.50" height="19.6" fill="#ff0505"/>
<rect x="213.45" y="430.5" width="1.70" height="25.4" fill="#ea1212"/>
<rect x="215.15" y="430.5" width="2.60" height="19.6" fill="#ff0505"/>
<rect x="218.45" y="430.5" width="1.80" height="5.4" fill="#ea1212"/>
<rect x="223.45" y="430.5" width="1.90" height="6.3" fill="#ea1212"/>
<rect x="225.35" y="430.5" width="2.60" height="6.3" fill="#ff0505"/>
<rect x="228.65" y="426.8" width="1.90" height="3.7" fill="#18e818"/>
<rect x="230.55" y="415.1" width="2.50" height="15.4" fill="#14f514"/>
<rect x="233.75" y="403.1" width="1.80" height="27.4" fill="#18e818"/>
<rect x="235.55" y="406.0" width="2.50" height="24.5" fill="#14f514"/>
<rect x="238.75" y="416.0" width="1.80" height="14.5" fill="#18e818"/>
<rect x="240.55" y="429.3" width="2.40" height="1.2" fill="#14f514"/>
<rect x="243.65" y="429.3" width="1.80" height="1.2" fill="#18e818"/>
<rect x="245.45" y="424.3" width="2.50" height="6.2" fill="#14f514"/>
<rect x="248.65" y="423.0" width="1.80" height="7.5" fill="#18e818"/>
<rect x="250.45" y="430.5" width="2.50" height="1.0" fill="#ff0505"/>
<rect x="253.65" y="430.5" width="1.80" height="1.3" fill="#ea1212"/>
<rect x="255.45" y="426.3" width="2.50" height="4.2" fill="#14f514"/>
<rect x="258.65" y="425.1" width="1.80" height="5.4" fill="#18e818"/>
<rect x="260.45" y="421.0" width="2.50" height="9.5" fill="#14f514"/>
<rect x="263.65" y="417.3" width="1.80" height="13.2" fill="#18e818"/>
<rect x="265.45" y="411.8" width="2.50" height="18.7" fill="#14f514"/>
<rect x="268.65" y="414.0" width="1.80" height="16.5" fill="#18e818"/>
<rect x="270.45" y="414.0" width="2.50" height="16.5" fill="#14f514"/>
<rect x="273.65" y="410.1" width="2.00" height="20.4" fill="#18e818"/>
<rect x="275.65" y="413.5" width="2.70" height="17.0" fill="#14f514"/>
<rect x="279.05" y="421.8" width="1.80" height="8.7" fill="#18e818"/>
<rect x="280.85" y="430.5" width="2.50" height="2.1" fill="#ff0505"/>
<rect x="284.05" y="430.5" width="1.80" height="12.9" fill="#ea1212"/>
<rect x="285.85" y="430.5" width="2.50" height="12.9" fill="#ff0505"/>
<rect x="289.05" y="430.5" width="1.80" height="15.4" fill="#ea1212"/>
<rect x="290.85" y="430.5" width="2.50" height="11.3" fill="#ff0505"/>
<rect x="294.05" y="430.5" width="1.80" height="13.8" fill="#ea1212"/>
<rect x="295.85" y="430.5" width="2.50" height="17.4" fill="#ff0505"/>
<rect x="299.05" y="430.5" width="1.80" height="23.7" fill="#ea1212"/>
<rect x="300.85" y="430.5" width="2.50" height="27.1" fill="#ff0505"/>
<rect x="304.05" y="430.5" width="1.80" height="31.2" fill="#ea1212"/>
<rect x="305.85" y="430.5" width="2.50" height="37.4" fill="#ff0505"/>
<rect x="309.05" y="430.5" width="1.80" height="33.7" fill="#ea1212"/>
<rect x="310.85" y="430.5" width="2.50" height="33.4" fill="#ff0505"/>
<rect x="314.05" y="430.5" width="1.80" height="27.1" fill="#ea1212"/>
<rect x="315.85" y="430.5" width="2.50" height="26.2" fill="#ff0505"/>
<rect x="319.05" y="430.5" width="1.80" height="27.1" fill="#ea1212"/>
<rect x="320.85" y="430.5" width="2.50" height="24.6" fill="#ff0505"/>
<rect x="324.05" y="430.5" width="1.80" height="26.2" fill="#ea1212"/>
<rect x="325.85" y="430.5" width="2.50" height="22.1" fill="#ff0505"/>
<rect x="329.05" y="430.5" width="1.80" height="12.1" fill="#ea1212"/>
<rect x="330.85" y="430.5" width="2.50" height="9.1" fill="#ff0505"/>
<rect x="334.05" y="430.5" width="1.80" height="4.6" fill="#ea1212"/>
<rect x="335.85" y="430.5" width="2.50" height="3.8" fill="#ff0505"/>
<rect x="339.05" y="430.5" width="1.80" height="7.9" fill="#ea1212"/>
<rect x="340.85" y="430.5" width="2.80" height="17.9" fill="#ff0505"/>
<rect x="344.35" y="430.5" width="1.90" height="25.4" fill="#ea1212"/>
<rect x="346.25" y="430.5" width="2.60" height="24.1" fill="#ff0505"/>
<rect x="349.55" y="430.5" width="2.00" height="13.8" fill="#ea1212"/>
<rect x="351.55" y="430.5" width="2.50" height="10.4" fill="#ff0505"/>
<rect x="354.75" y="430.5" width="1.80" height="14.6" fill="#ea1212"/>
<rect x="356.55" y="430.5" width="2.50" height="19.6" fill="#ff0505"/>
<rect x="359.75" y="430.5" width="1.80" height="25.4" fill="#ea1212"/>
<rect x="361.55" y="430.5" width="2.50" height="21.2" fill="#ff0505"/>
<rect x="364.75" y="430.5" width="1.80" height="21.2" fill="#ea1212"/>
<rect x="366.55" y="430.5" width="2.50" height="16.2" fill="#ff0505"/>
<rect x="369.75" y="430.5" width="1.80" height="16.2" fill="#ea1212"/>
<rect x="371.55" y="430.5" width="2.50" height="18.4" fill="#ff0505"/>
<rect x="374.75" y="430.5" width="1.80" height="15.4" fill="#ea1212"/>
<rect x="376.55" y="430.5" width="2.50" height="13.8" fill="#ff0505"/>
<rect x="379.75" y="430.5" width="1.80" height="9.6" fill="#ea1212"/>
<rect x="381.55" y="430.5" width="2.50" height="7.9" fill="#ff0505"/>
<rect x="384.75" y="430.5" width="1.80" height="5.4" fill="#ea1212"/>
<rect x="386.55" y="430.5" width="2.50" height="7.1" fill="#ff0505"/>
<rect x="389.75" y="430.5" width="1.80" height="1.3" fill="#ea1212"/>
<rect x="391.55" y="430.5" width="2.50" height="3.8" fill="#ff0505"/>
<rect x="394.75" y="430.5" width="1.80" height="8.5" fill="#ea1212"/>
<rect x="396.55" y="430.5" width="2.50" height="9.6" fill="#ff0505"/>
<rect x="399.75" y="430.5" width="1.80" height="4.6" fill="#ea1212"/>
<rect x="401.55" y="430.5" width="2.50" height="4.6" fill="#ff0505"/>
<rect x="405.05" y="429.3" width="1.90" height="1.2" fill="#18e818"/>
<rect x="406.95" y="424.3" width="2.50" height="6.2" fill="#14f514"/>
<rect x="410.15" y="416.8" width="1.80" height="13.7" fill="#18e818"/>
<rect x="411.95" y="406.8" width="2.50" height="23.7" fill="#14f514"/>
<rect x="415.15" y="395.2" width="1.80" height="35.3" fill="#18e818"/>
<rect x="416.95" y="384.5" width="2.70" height="46.0" fill="#14f514"/>
<rect x="420.35" y="388.0" width="1.80" height="42.5" fill="#18e818"/>
<rect x="422.15" y="397.7" width="2.60" height="32.8" fill="#14f514"/>
<rect x="425.45" y="401.8" width="1.80" height="28.7" fill="#18e818"/>
<rect x="427.25" y="406.8" width="2.50" height="23.7" fill="#14f514"/>
<rect x="430.45" y="414.0" width="1.80" height="16.5" fill="#18e818"/>
<rect x="432.25" y="416.0" width="2.50" height="14.5" fill="#14f514"/>
<rect x="435.45" y="414.0" width="1.80" height="16.5" fill="#18e818"/>
<rect x="437.25" y="408.0" width="2.50" height="22.5" fill="#14f514"/>
<rect x="440.45" y="404.0" width="2.00" height="26.5" fill="#18e818"/>
<rect x="442.45" y="410.1" width="2.50" height="20.4" fill="#14f514"/>
<rect x="445.65" y="413.0" width="1.90" height="17.5" fill="#18e818"/>
<rect x="447.55" y="409.0" width="2.50" height="21.5" fill="#14f514"/>
<rect x="450.75" y="402.1" width="1.90" height="28.4" fill="#18e818"/>
<rect x="452.65" y="403.0" width="2.50" height="27.5" fill="#14f514"/>
<rect x="455.85" y="411.8" width="1.80" height="18.7" fill="#18e818"/>
<rect x="457.65" y="416.0" width="2.40" height="14.5" fill="#14f514"/>
<rect x="460.75" y="411.0" width="1.80" height="19.5" fill="#18e818"/>
<rect x="462.55" y="413.0" width="2.50" height="17.5" fill="#14f514"/>
<rect x="465.75" y="412.3" width="1.80" height="18.2" fill="#18e818"/>
<rect x="467.55" y="411.0" width="2.50" height="19.5" fill="#14f514"/>
<rect x="470.75" y="406.0" width="1.80" height="24.5" fill="#18e818"/>
<rect x="472.55" y="401.3" width="2.50" height="29.2" fill="#14f514"/>
<rect x="475.75" y="405.1" width="1.80" height="25.4" fill="#18e818"/>
<rect x="477.55" y="412.3" width="2.50" height="18.2" fill="#14f514"/>
<rect x="480.75" y="416.3" width="1.80" height="14.2" fill="#18e818"/>
<rect x="482.55" y="421.0" width="2.50" height="9.5" fill="#14f514"/>
<rect x="485.75" y="428.4" width="1.80" height="2.1" fill="#18e818"/>
<rect x="487.55" y="430.5" width="2.50" height="7.1" fill="#ff0505"/>
<rect x="490.75" y="430.5" width="1.80" height="16.2" fill="#ea1212"/>
<rect x="492.55" y="430.5" width="2.50" height="16.2" fill="#ff0505"/>
<rect x="495.75" y="430.5" width="1.80" height="17.1" fill="#ea1212"/>
<rect x="497.55" y="430.5" width="2.50" height="18.4" fill="#ff0505"/>
<rect x="500.75" y="430.5" width="1.80" height="15.1" fill="#ea1212"/>
<rect x="502.55" y="430.5" width="2.70" height="14.6" fill="#ff0505"/>
<rect x="505.95" y="430.5" width="1.90" height="8.5" fill="#ea1212"/>
<rect x="507.85" y="430.5" width="2.60" height="1.3" fill="#ff0505"/>
<rect x="511.15" y="427.3" width="1.90" height="3.2" fill="#18e818"/>
<rect x="513.05" y="429.0" width="2.60" height="1.5" fill="#14f514"/>
<rect x="516.35" y="429.0" width="1.80" height="1.5" fill="#18e818"/>
<rect x="518.15" y="430.5" width="2.50" height="3.8" fill="#ff0505"/>
<rect x="521.35" y="430.5" width="1.80" height="3.5" fill="#ea1212"/>
<rect x="523.15" y="429.3" width="2.50" height="1.2" fill="#14f514"/>
<rect x="526.35" y="422.3" width="1.80" height="8.2" fill="#18e818"/>
<rect x="528.15" y="413.1" width="2.50" height="17.4" fill="#14f514"/>
<rect x="531.35" y="406.0" width="1.80" height="24.5" fill="#18e818"/>
<rect x="533.15" y="410.1" width="2.50" height="20.4" fill="#14f514"/>
<rect x="536.35" y="417.3" width="1.80" height="13.2" fill="#18e818"/>
<rect x="538.15" y="424.3" width="2.50" height="6.2" fill="#14f514"/>
<rect x="541.35" y="424.3" width="1.80" height="6.2" fill="#18e818"/>
<rect x="543.15" y="429.3" width="2.40" height="1.2" fill="#14f514"/>
<rect x="547.95" y="430.5" width="2.50" height="5.4" fill="#ff0505"/>
<rect x="551.15" y="430.5" width="1.80" height="10.4" fill="#ea1212"/>
<rect x="552.95" y="430.5" width="2.70" height="16.2" fill="#ff0505"/>
<rect x="556.35" y="430.5" width="1.80" height="22.4" fill="#ea1212"/>
<rect x="558.15" y="430.5" width="2.50" height="22.4" fill="#ff0505"/>
<rect x="561.35" y="430.5" width="1.80" height="15.4" fill="#ea1212"/>
<rect x="563.45" y="430.5" width="2.60" height="6.8" fill="#ff0505"/>
<rect x="566.75" y="430.5" width="1.90" height="5.1" fill="#ea1212"/>
<rect x="568.65" y="430.5" width="2.50" height="3.5" fill="#ff0505"/>
<rect x="573.65" y="425.1" width="2.40" height="5.4" fill="#14f514"/>
<rect x="576.75" y="424.3" width="1.80" height="6.2" fill="#18e818"/>
<rect x="578.55" y="420.1" width="2.40" height="10.4" fill="#14f514"/>
<rect x="581.65" y="414.3" width="1.80" height="16.2" fill="#18e818"/>
<rect x="583.45" y="408.5" width="2.40" height="22.0" fill="#14f514"/>
<rect x="586.55" y="408.5" width="1.80" height="22.0" fill="#18e818"/>
<rect x="588.35" y="405.1" width="2.50" height="25.4" fill="#14f514"/>
<rect x="591.55" y="410.1" width="1.80" height="20.4" fill="#18e818"/>
<rect x="593.35" y="410.1" width="2.50" height="20.4" fill="#14f514"/>
<rect x="596.55" y="408.0" width="1.80" height="22.5" fill="#18e818"/>
<rect x="598.35" y="401.3" width="2.50" height="29.2" fill="#14f514"/>
<rect x="601.55" y="391.0" width="1.90" height="39.5" fill="#18e818"/>
<rect x="603.45" y="392.3" width="2.70" height="38.2" fill="#14f514"/>
<rect x="606.85" y="401.0" width="1.80" height="29.5" fill="#18e818"/>
<rect x="608.65" y="412.3" width="2.70" height="18.2" fill="#14f514"/>
<rect x="612.05" y="416.0" width="1.70" height="14.5" fill="#18e818"/>
<rect x="613.75" y="412.3" width="2.70" height="18.2" fill="#14f514"/>
<rect x="617.15" y="413.5" width="1.70" height="17.0" fill="#18e818"/>
<rect x="618.85" y="419.3" width="2.60" height="11.2" fill="#14f514"/>
<rect x="622.15" y="420.1" width="1.70" height="10.4" fill="#18e818"/>
<rect x="623.85" y="419.0" width="2.70" height="11.5" fill="#14f514"/>
<rect x="627.25" y="423.5" width="1.90" height="7.0" fill="#18e818"/>
<rect x="632.35" y="430.5" width="1.80" height="7.1" fill="#ea1212"/>
<rect x="634.15" y="430.5" width="2.50" height="6.3" fill="#ff0505"/>
<rect x="637.35" y="430.5" width="1.70" height="10.4" fill="#ea1212"/>
<rect x="639.05" y="430.5" width="2.50" height="15.4" fill="#ff0505"/>
<rect x="642.25" y="430.5" width="1.80" height="14.1" fill="#ea1212"/>
<rect x="644.05" y="430.5" width="2.60" height="15.1" fill="#ff0505"/>
<rect x="647.35" y="430.5" width="1.70" height="11.8" fill="#ea1212"/>
<rect x="649.05" y="430.5" width="2.50" height="6.3" fill="#ff0505"/>
<rect x="654.05" y="430.5" width="2.50" height="1.0" fill="#ff0505"/>
<rect x="657.25" y="430.5" width="1.80" height="2.1" fill="#ea1212"/>
</g>
<rect x="6" y="430" width="671" height="1" fill="#b4b4b4" fill-opacity="0.6" shape-rendering="crispEdges"/>
<rect x="6.6" y="376.8" width="176.4" height="30.6" rx="3" fill="#191919" fill-opacity="0.52"/>
<rect x="15" y="386" width="12" height="12" fill="#ffffff"/>
<g font-family="'DejaVu Sans Condensed','DejaVu Sans','Liberation Sans',sans-serif" font-size="13.8" fill="#fff" stroke="#fff" stroke-width="0.15">
<text x="31.4" y="397.4" textLength="34.9" lengthAdjust="spacingAndGlyphs">FG(5)</text>
<text x="73.1" y="397.4" textLength="50.2" lengthAdjust="spacingAndGlyphs">(BBDXY)</text>
<text x="131.5" y="397.4" textLength="44.5" lengthAdjust="spacingAndGlyphs">-1.5774</text>
</g>
<g fill="#fff" shape-rendering="crispEdges">
<rect x="677" y="47" width="1.4" height="324.3"/>
<rect x="677" y="375.6" width="1.4" height="109"/>
<rect x="6" y="484" width="672.4" height="1"/>
<rect x="677" y="55" width="3.8" height="1"/>
<rect x="677" y="94" width="3.8" height="1"/>
<rect x="677" y="134" width="3.8" height="1"/>
<rect x="677" y="174" width="3.8" height="1"/>
<rect x="677" y="214" width="3.8" height="1"/>
<rect x="677" y="254" width="3.8" height="1"/>
<rect x="677" y="293" width="3.8" height="1"/>
<rect x="677" y="333" width="3.8" height="1"/>
<rect x="677" y="379" width="3.8" height="1"/>
<rect x="677" y="413" width="3.8" height="1"/>
<rect x="677" y="447" width="3.8" height="1"/>
<rect x="677" y="482" width="3.8" height="1"/>
<rect x="10" y="484" width="1" height="4"/>
<rect x="63" y="484" width="1" height="4"/>
<rect x="118" y="484" width="1" height="4"/>
<rect x="168" y="484" width="1" height="4"/>
<rect x="219" y="484" width="1" height="4"/>
<rect x="277" y="484" width="1" height="4"/>
<rect x="330" y="484" width="1" height="4"/>
<rect x="383" y="484" width="1" height="4"/>
<rect x="438" y="484" width="1" height="4"/>
<rect x="494" y="484" width="1" height="4"/>
<rect x="549" y="484" width="1" height="4"/>
<rect x="605" y="484" width="1" height="4"/>
<rect x="658" y="484" width="1" height="4"/>
</g>
<g fill="#fff">
<path d="M677.5 71.4L686.2 74.5L677.5 77.6Z"/>
<path d="M677.5 111.4L686.2 114.5L677.5 117.6Z"/>
<path d="M677.5 151.4L686.2 154.5L677.5 157.6Z"/>
<path d="M677.5 191.4L686.2 194.5L677.5 197.6Z"/>
<path d="M677.5 231.4L686.2 234.5L677.5 237.6Z"/>
<path d="M677.5 270.4L686.2 273.5L677.5 276.6Z"/>
<path d="M677.5 310.4L686.2 313.5L677.5 316.6Z"/>
<path d="M677.5 350.4L686.2 353.5L677.5 356.6Z"/>
<path d="M677.5 393.4L686.2 396.5L677.5 399.6Z"/>
<path d="M677.5 462.4L686.2 465.5L677.5 468.6Z"/>
</g>
<g font-family="'DejaVu Sans Condensed','DejaVu Sans','Liberation Sans',sans-serif" font-size="14" fill="#fff">
<text x="687.6" y="79.6" textLength="27.2" lengthAdjust="spacingAndGlyphs">1180</text>
<text x="687.6" y="119.6" textLength="27.2" lengthAdjust="spacingAndGlyphs">1170</text>
<text x="687.6" y="159.6" textLength="27.2" lengthAdjust="spacingAndGlyphs">1160</text>
<text x="687.6" y="199.6" textLength="27.2" lengthAdjust="spacingAndGlyphs">1150</text>
<text x="687.6" y="239.6" textLength="27.2" lengthAdjust="spacingAndGlyphs">1140</text>
<text x="687.6" y="278.6" textLength="27.2" lengthAdjust="spacingAndGlyphs">1130</text>
<text x="687.6" y="318.6" textLength="27.2" lengthAdjust="spacingAndGlyphs">1120</text>
<text x="687.6" y="358.6" textLength="27.2" lengthAdjust="spacingAndGlyphs">1110</text>
<text x="687.6" y="401.6" textLength="13.5" lengthAdjust="spacingAndGlyphs">20</text>
<text x="688" y="470.6" textLength="20" lengthAdjust="spacingAndGlyphs">-20</text>
</g>
<path d="M679 179.6L685 171.29999999999998H734V187.9H685Z" fill="#22b14c" stroke="#000" stroke-width="1.6" paint-order="stroke"/>
<path d="M679 157.6L685 149.29999999999998H734V165.9H685Z" fill="#e6059c" stroke="#000" stroke-width="1.6" paint-order="stroke"/>
<text x="686" y="162.7" font-family="'DejaVu Sans Condensed','DejaVu Sans','Liberation Sans',sans-serif" font-size="14" fill="#fff" stroke="#fff" stroke-width="0" textLength="45" lengthAdjust="spacingAndGlyphs">1159.32</text>
<path d="M679 181.2L685 172.89999999999998H734V189.5H685Z" fill="#ffffff" stroke="#000" stroke-width="1.6" paint-order="stroke"/>
<text x="686" y="186.29999999999998" font-family="'DejaVu Sans Condensed','DejaVu Sans','Liberation Sans',sans-serif" font-size="14" fill="#000" stroke="#000" stroke-width="0.1" textLength="45" lengthAdjust="spacingAndGlyphs">1153.19</text>
<path d="M679 433.55L685 425.25H734V441.85H685Z" fill="#ffffff" stroke="#000" stroke-width="1.6" paint-order="stroke"/>
<text x="686" y="438.65000000000003" font-family="'DejaVu Sans Condensed','DejaVu Sans','Liberation Sans',sans-serif" font-size="14" fill="#000" stroke="#000" stroke-width="0.1" textLength="45" lengthAdjust="spacingAndGlyphs">-1.5774</text>
<g font-family="'DejaVu Sans Condensed','DejaVu Sans','Liberation Sans',sans-serif" font-size="13.8" fill="#fff">
<text x="80.1" y="499" textLength="20.8" lengthAdjust="spacingAndGlyphs">Dec</text>
<text x="237.9" y="499" textLength="19.8" lengthAdjust="spacingAndGlyphs">Mar</text>
<text x="400.6" y="499" textLength="20.5" lengthAdjust="spacingAndGlyphs">Jun</text>
<text x="567.7" y="499" textLength="21.1" lengthAdjust="spacingAndGlyphs">Sep</text>
<text x="48.1" y="515.2" textLength="27.9" lengthAdjust="spacingAndGlyphs">2020</text>
<text x="384.5" y="515.2" textLength="27.6" lengthAdjust="spacingAndGlyphs">2021</text>
</g>
<rect x="118" y="501.5" width="1" height="16.5" fill="#8a8a8a" shape-rendering="crispEdges"/>
<g font-family="'DejaVu Sans','Liberation Sans',sans-serif" font-weight="bold" font-size="17" fill="#fff" stroke="#fff" stroke-width="0.3">
<text x="7.5" y="20" textLength="78.1" lengthAdjust="spacingAndGlyphs">Trading</text>
<text x="90.6" y="20" textLength="54.3" lengthAdjust="spacingAndGlyphs">Heavy</text>
</g>
<g font-family="'DejaVu Sans','Liberation Sans',sans-serif" font-weight="bold" font-size="13.4" fill="#fff" stroke="#fff" stroke-width="0.3">
<text x="6.7" y="37" textLength="73.9" lengthAdjust="spacingAndGlyphs">Greenback</text>
<text x="87.7" y="37" textLength="40.5" lengthAdjust="spacingAndGlyphs">under</text>
<text x="135.5" y="37" textLength="61.2" lengthAdjust="spacingAndGlyphs">pressure</text>
<text x="203.3" y="37" textLength="14.7" lengthAdjust="spacingAndGlyphs">as</text>
<text x="223.9" y="37" textLength="33.9" lengthAdjust="spacingAndGlyphs">close</text>
<text x="264.5" y="37" textLength="43.4" lengthAdjust="spacingAndGlyphs">below</text>
<text x="314.2" y="37" textLength="60.0" lengthAdjust="spacingAndGlyphs">55-DMA</text>
<text x="381.6" y="37" textLength="39.8" lengthAdjust="spacingAndGlyphs">raises</text>
<text x="428.4" y="37" textLength="65.5" lengthAdjust="spacingAndGlyphs">downside</text>
<text x="501.3" y="37" textLength="33.2" lengthAdjust="spacingAndGlyphs">risks</text>
</g>
<g font-family="'DejaVu Sans','Liberation Sans',sans-serif" font-weight="bold" font-size="13.5" fill="#fff" stroke="#fff" stroke-width="0.3">
<text x="12.0" y="538.3" textLength="53.6" lengthAdjust="spacingAndGlyphs">Source:</text>
<text x="73.8" y="538.3" textLength="76.9" lengthAdjust="spacingAndGlyphs">Bloomberg</text>
</g>
<text x="582.8" y="537.2" font-family="'Liberation Sans','DejaVu Sans',sans-serif" font-size="23.4" fill="#fff" stroke="#fff" stroke-width="0.7" stroke-linejoin="round" textLength="118.8" lengthAdjust="spacingAndGlyphs">Bloomberg</text>
<path d="M715.1 520H727.5a2.5 2.5 0 0 1 2.5 2.5V535.1a2.5 2.5 0 0 1 -2.5 2.5H724.2L721.2 541.2L718.2 537.6H715.1a2.5 2.5 0 0 1 -2.5 -2.5V522.5a2.5 2.5 0 0 1 2.5 -2.5Z" fill="#fff"/>
<g fill="#303030"><rect x="715.1" y="529.8" width="1.8" height="4.2"/><rect x="718.8" y="527" width="1.8" height="7"/><rect x="722.2" y="525" width="1.8" height="9"/><rect x="725.6" y="529.8" width="1.8" height="4.2"/></g>
</svg>
</body></html>
